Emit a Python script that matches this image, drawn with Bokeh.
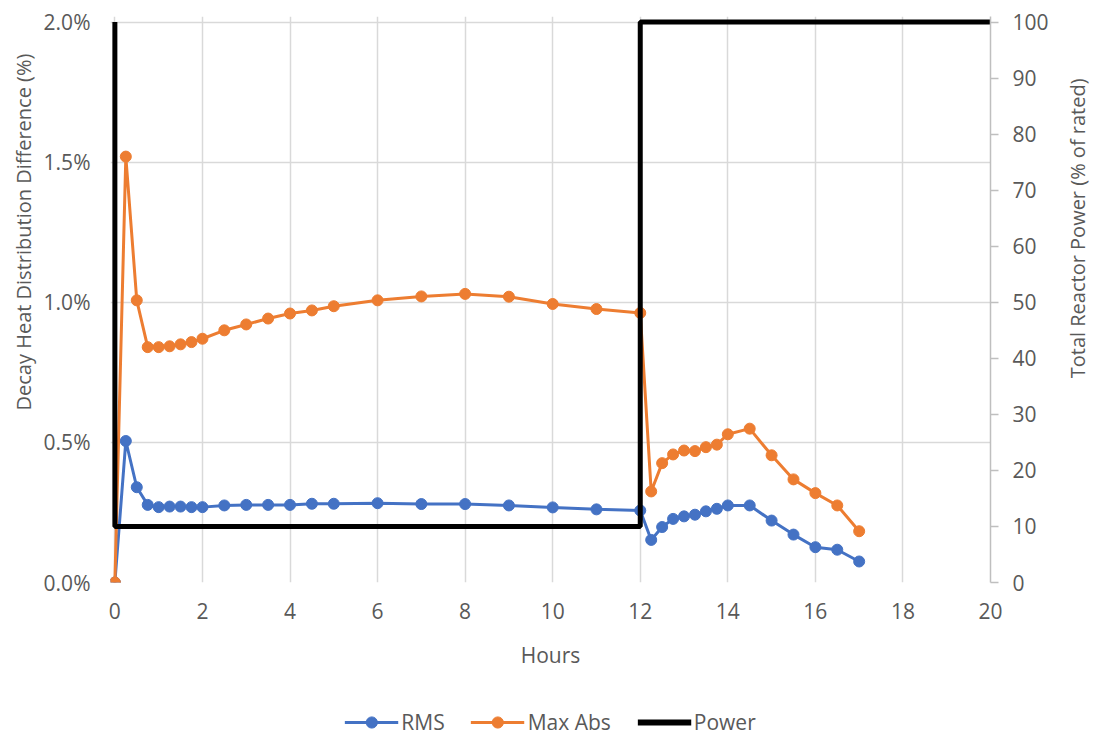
from bokeh.plotting import figure
from bokeh.layouts import column, row
from bokeh.models import (LinearAxis, Range1d, FixedTicker, PrintfTickFormatter,
                          Legend, LegendItem, Title)
from bokeh.core.properties import value
from bokeh.embed import file_html
from bokeh.resources import INLINE
import math

# ---- data ----
hours = [0, 0.25, 0.5, 0.75, 1, 1.25, 1.5, 1.75, 2, 2.5, 3, 3.5, 4, 4.5, 5,
         6, 7, 8, 9, 10, 11, 12, 12.25, 12.5, 12.75, 13, 13.25, 13.5, 13.75,
         14, 14.5, 15, 15.5, 16, 16.5, 17]
rms = [0, 0.505, 0.340, 0.277, 0.269, 0.271, 0.271, 0.269, 0.269, 0.275, 0.277,
       0.277, 0.277, 0.281, 0.281, 0.283, 0.280, 0.280, 0.275, 0.268, 0.261,
       0.257, 0.152, 0.198, 0.227, 0.236, 0.242, 0.254, 0.263, 0.275, 0.275,
       0.221, 0.171, 0.126, 0.117, 0.075]
max_abs = [0, 1.52, 1.007, 0.84, 0.84, 0.843, 0.85, 0.858, 0.87, 0.90, 0.921,
           0.942, 0.96, 0.971, 0.986, 1.007, 1.021, 1.03, 1.02, 0.994, 0.976,
           0.962, 0.325, 0.426, 0.457, 0.471, 0.469, 0.483, 0.492, 0.529, 0.549,
           0.454, 0.368, 0.319, 0.275, 0.183]
power_hours = [0, 0, 12, 12, 20]
power = [100, 10, 10, 100, 100]

x_ticks = [0, 2, 4, 6, 8, 10, 12, 14, 16, 18, 20]
y_ticks = [0, 0.5, 1.0, 1.5, 2.0]
power_ticks = [0, 10, 20, 30, 40, 50, 60, 70, 80, 90, 100]

series_names = ["RMS", "Max Abs", "Power"]
left_title = "Decay Heat Distribution Difference (%)"
right_title = "Total Reactor Power (% of rated)"

BLUE = "#4472C4"
ORANGE = "#ED7D31"
TXT = "#595959"
GRID = "#d9d9d9"
FONT = "Open Sans"
FS = "21px"

MAIN_H = 706
LEG_H = 738 - MAIN_H
RW = 35
MAIN_W = 1093 - RW

p = figure(width=MAIN_W, height=MAIN_H, x_range=Range1d(-0.1, 20), y_range=Range1d(0, 2.02),
           output_backend="svg", toolbar_location=None,
           min_border_left=110, min_border_right=MAIN_W - 990, min_border_top=16,
           min_border_bottom=MAIN_H - 582)
p.outline_line_color = None
p.background_fill_color = "white"
p.border_fill_color = "white"

p.extra_y_ranges = {"power": Range1d(0, 101)}

# x axis
xa = p.xaxis[0]
xa.ticker = FixedTicker(ticks=x_ticks)
xa.axis_line_color = None
xa.major_tick_line_color = None
xa.minor_tick_line_color = None
xa.major_label_text_font = FONT
xa.major_label_text_font_size = FS
xa.major_label_text_color = TXT
xa.major_label_standoff = 14
xa.axis_label = "Hours"
xa.axis_label_text_font = FONT
xa.axis_label_text_font_size = FS
xa.axis_label_text_font_style = "normal"
xa.axis_label_text_color = TXT
xa.axis_label_standoff = 19

# left axis
ya = p.yaxis[0]
ya.ticker = FixedTicker(ticks=y_ticks)
ya.formatter = PrintfTickFormatter(format="%.1f%%")
ya.axis_line_color = None
ya.major_tick_line_color = None
ya.minor_tick_line_color = None
ya.major_tick_out = 0
ya.major_label_text_font = FONT
ya.major_label_text_font_size = FS
ya.major_label_text_color = TXT
ya.major_label_standoff = 20

# left title (off-centre, like the reference)
p.add_layout(Title(text=left_title, align="left", offset=172, vertical_align="middle",
                   standoff=6, text_font=FONT, text_font_size="20px",
                   text_font_style="normal", text_color=TXT), "left")

# right axis
ra = LinearAxis(y_range_name="power", ticker=FixedTicker(ticks=power_ticks))
ra.axis_line_color = "#bfbfbf"
ra.axis_line_width = 1.5
ra.major_tick_line_color = "#bfbfbf"
ra.major_tick_line_width = 1.5
ra.major_tick_out = 8
ra.major_tick_in = 0
ra.minor_tick_line_color = None
ra.major_label_text_font = FONT
ra.major_label_text_font_size = FS
ra.major_label_text_color = TXT
ra.major_label_standoff = 14
p.add_layout(ra, "right")

p.xgrid.ticker = FixedTicker(ticks=x_ticks)
p.ygrid.ticker = FixedTicker(ticks=y_ticks)
p.grid.grid_line_color = GRID
p.grid.grid_line_width = 1.5

# series
p.line(hours, rms, line_color=BLUE, line_width=3)
p.scatter(hours, rms, size=11, fill_color=BLUE, line_color=BLUE)
p.line(hours, max_abs, line_color=ORANGE, line_width=3)
p.scatter(hours, max_abs, size=11, fill_color=ORANGE, line_color=ORANGE)
p.line(power_hours, power, y_range_name="power", line_color="black", line_width=5)

# right-hand title strip (reads bottom to top, sits above centre like the reference)
rs = figure(width=RW, height=MAIN_H, x_range=Range1d(0, RW), y_range=Range1d(0, 101),
            output_backend="svg", toolbar_location=None,
            x_axis_location=None, y_axis_location=None,
            min_border_left=0, min_border_right=0, min_border_top=16,
            min_border_bottom=MAIN_H - 582)
rs.grid.visible = False
rs.outline_line_color = None
rs.border_fill_color = "white"
rs.text(x=[19], y=[63.2], text=[right_title], angle=math.pi / 2, text_align="center",
        text_baseline="middle", text_font=value(FONT), text_font_size="20px",
        text_color=TXT)

# legend strip below the chart (its lines lie outside its visible range)
q = figure(width=1093, height=LEG_H, x_range=Range1d(0, 20), y_range=Range1d(200, 201),
           output_backend="svg", toolbar_location=None,
           x_axis_location=None, y_axis_location=None,
           min_border_left=110, min_border_right=103, min_border_top=0,
           min_border_bottom=0)
q.grid.visible = False
q.outline_line_color = None
q.border_fill_color = "white"
k1 = q.line(hours, rms, line_color=BLUE, line_width=3)
k1b = q.scatter(hours, rms, size=11, fill_color=BLUE, line_color=BLUE)
k2 = q.line(hours, max_abs, line_color=ORANGE, line_width=3)
k2b = q.scatter(hours, max_abs, size=11, fill_color=ORANGE, line_color=ORANGE)
k3 = q.line(power_hours, power, line_color="black", line_width=6)

legend = Legend(items=[LegendItem(label=series_names[0], renderers=[k1, k1b]),
                       LegendItem(label=series_names[1], renderers=[k2, k2b]),
                       LegendItem(label=series_names[2], renderers=[k3])],
                orientation="horizontal", location="center",
                glyph_width=54, glyph_height=28, label_standoff=3,
                label_width=10, spacing=26, padding=0, margin=0,
                border_line_color=None, background_fill_alpha=0,
                label_text_font=FONT, label_text_font_size=FS,
                label_text_color=TXT)
q.add_layout(legend, "center")

layout = column(row(p, rs, spacing=0), q, spacing=0)
open("out.html", "w").write(file_html(layout, INLINE))
